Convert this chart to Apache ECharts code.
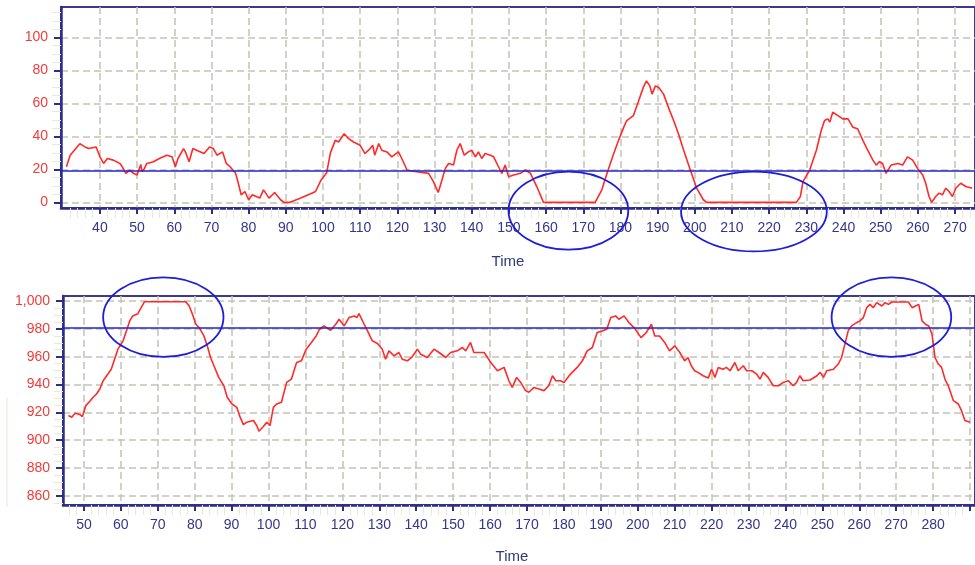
<!DOCTYPE html>
<html>
<head>
<meta charset="utf-8">
<script src="https://cdn.jsdelivr.net/npm/echarts@6/dist/echarts.min.js"></script>
<style>
  html, body { margin: 0; padding: 0; background: #ffffff; }
  #chart { width: 975px; height: 565px; }
</style>
</head>
<body>
<div id="chart"></div>
<script>
// Upper trend: time stamps and level readings
const upperTime = [
  31, 32, 34.6, 36, 37, 39, 40, 41, 42, 43.6, 45.4, 46, 47, 48, 49, 50, 51, 51.3, 52, 52.6,
  54.4, 56, 58, 59.4, 60.3, 61, 62.5, 63, 64, 65, 66, 68, 69.5, 70.5, 71.5, 72, 73, 74, 75, 76.5,
  77, 78, 79, 80, 81, 82, 83, 84, 85.5, 87, 88.6, 89.5, 91, 94, 97, 98, 99.5, 101, 102, 103.3,
  104.2, 105.7, 106.9, 108.2, 110, 111.3, 112.7, 113.4, 113.9, 115, 115.8, 117.2, 118.5, 120.3, 121.2, 122.6, 125.2, 128.4, 129.7, 131,
  132, 132.9, 133.8, 135.1, 136, 136.9, 138, 139.1, 140, 141, 141.8, 142.7, 143.6, 145, 145.9, 147.2, 148.1, 149, 149.9, 151.3,
  153.1, 154.4, 155.8, 157.5, 159.3, 173.2, 175, 176.4, 178.2, 179.5, 180.9, 181.7, 183.5, 184.9, 186.2, 187, 187.9, 188.5, 189.4, 190.3,
  191.6, 192.9, 194.3, 195.6, 197, 198.8, 200.5, 202.3, 203.2, 227.3, 228.4, 229.1, 230.9, 232.7, 234, 234.9, 235.8, 236.3, 237.1, 238.5,
  239.8, 241.2, 242.5, 243.8, 245.2, 246.5, 247.9, 248.8, 249.6, 250.5, 251.4, 252.8, 254.6, 255.9, 257.2, 258.6, 259.9, 261.3, 262.1, 263,
  263.7, 264.8, 265.7, 266.6, 267.5, 268.4, 269.3, 270.2, 271.5, 272.9, 274.6
];
const upperLevel = [
  21.6, 28.6, 35.6, 33.6, 32.6, 33.6, 27.6, 23.6, 26.6, 25.6, 23.6, 21.6, 17.6, 19.6, 17.6, 16.6, 23, 18.6, 20.6, 23.6,
  24.6, 26.6, 28.6, 27.6, 21.6, 26.6, 32.6, 30.6, 24.6, 32.6, 31.6, 29.6, 33.6, 32.6, 28.6, 27.6, 30.6, 23.6, 21.6, 17.6,
  13.6, 4.6, 6.6, 1.6, 4.6, 3.6, 2.6, 7.6, 2.6, 6, 1.6, 0, 0, 2.6, 5.6, 6.6, 13.6, 18, 30, 37.6,
  36.6, 41.6, 38.6, 36.6, 34.6, 29.6, 32.6, 34.6, 28.6, 35.6, 31.6, 30.6, 27.6, 30.6, 26.6, 19.6, 18.6, 17.6, 12.6, 6,
  13.6, 20.6, 23.6, 22.6, 31.6, 35.6, 28.6, 30.6, 31.6, 27.6, 30.6, 26.6, 29.6, 28.6, 27.6, 21.6, 17.6, 22.6, 15.6, 16.6,
  17.6, 19.6, 17.6, 9.6, 0, 0, 7.6, 17.6, 29.6, 37.6, 45.6, 49.6, 52.6, 61.6, 70, 73.6, 70.6, 65.6, 70.6, 69.6,
  65.6, 57.6, 49.6, 41.6, 31.6, 19.6, 8.6, 1.6, 0, 0, 3.6, 12.6, 19.6, 31.6, 43.6, 49.6, 50.6, 48.6, 54.6, 52.6,
  50.6, 50.6, 45.6, 44.6, 37.6, 31.6, 25.6, 22.6, 24.6, 23.6, 17.6, 22.6, 23.6, 22.6, 27.6, 25.6, 20.6, 16.6, 11.6, 3.6,
  0, 3.6, 5.6, 4.6, 8.6, 6.6, 3.6, 8.6, 11.6, 9.6, 8.6
];

// Lower trend: time stamps and pressure readings
const lowerTime = [
  45.8, 46.7, 47.6, 48.9, 49.6, 50.5, 51.6, 52.5, 53.4, 54.3, 55.2, 56.5, 57.4, 58.3, 59.2, 60.6, 61.5, 62.4, 63.2, 64.6,
  65.5, 66.4, 77.6, 78.5, 79.4, 80.3, 81.2, 82.5, 83.4, 84.3, 85.6, 86.5, 87.9, 88.8, 90.1, 91.4, 92.3, 93.2, 94.1, 95.9,
  96.8, 97.4, 98.6, 99.5, 100.4, 101.3, 102.2, 103.5, 104.9, 106.2, 107.6, 108.9, 110.2, 111.6, 112.9, 113.8, 115, 116.8, 118.2, 119.1,
  120.5, 121.8, 123.2, 123.9, 124.5, 125.9, 126.8, 128.1, 129.5, 130.8, 131.7, 132.6, 134, 135.3, 136.2, 137.6, 138.9, 140.3, 141.2, 143,
  144.8, 146.2, 148, 149.3, 151.1, 152.5, 153.4, 154.7, 155.6, 157.5, 158.4, 160.2, 162, 163.8, 165.1, 166, 167.2, 168.3, 169.6, 170.5,
  171.9, 173.2, 174.6, 175.9, 176.9, 177.8, 179.1, 180, 181.8, 183.6, 185, 186.3, 187.7, 189, 190.4, 191.6, 192.7, 194, 194.9, 196.3,
  197.6, 199, 200.9, 202.3, 203.7, 204.6, 205.9, 207.3, 208.6, 210, 211.4, 212.7, 213.6, 214.5, 215.4, 216.3, 217.7, 219.1, 220, 220.9,
  221.8, 223.1, 224, 225, 226.3, 227.2, 228.6, 229.5, 230.9, 232.2, 233.1, 234, 235.3, 236.7, 238.1, 239.4, 240.8, 242.1, 243, 243.9,
  244.8, 246.7, 248.5, 249.4, 250.3, 251.2, 253, 254.3, 255.2, 256.1, 257, 257.9, 259.3, 260.2, 261.1, 262, 262.9, 263.8, 264.7, 266.1,
  267, 267.9, 268.8, 273.3, 274.3, 275.2, 276.1, 277, 277.9, 278.8, 279.7, 280.5, 281.4, 282.3, 283.2, 284.1, 285.5, 286.8, 287.7, 288.6,
  290
];
const lowerLevel = [
  917.7, 916.5, 919.3, 918.4, 917, 924.8, 928, 930.8, 933.2, 936.8, 942.7, 947.5, 951, 958.2, 965.4, 971.4, 978.5, 985.7, 989.3, 990.9,
  995.2, 999.5, 999.5, 996.4, 990.5, 983.3, 980.9, 974.9, 967.8, 959.4, 951, 945.1, 939.1, 930.8, 926, 923.6, 916.5, 911.2, 912.9, 914.1,
  910.5, 906.4, 909.8, 912.9, 910.5, 923.6, 926, 927.2, 941.5, 943.9, 955.8, 957, 965.4, 970.2, 974.9, 979.7, 982.1, 979, 983.3, 986.9,
  982.1, 988.1, 989.3, 988.1, 990.9, 983.3, 978.5, 971.4, 969.5, 965.4, 958.2, 964.2, 960.6, 963, 958.2, 957, 959.9, 965.4, 961.8, 959.4,
  965.4, 963, 959.4, 963, 964.2, 966.6, 964.2, 970.2, 963, 963, 963, 955.8, 949.9, 952.3, 942.7, 937.9, 945.1, 941.5, 935.6, 934.4,
  937.9, 936.7, 935.6, 939.1, 946.3, 942.7, 942.7, 941.5, 947.5, 952.3, 957, 964.2, 966.6, 977.3, 978.5, 979.7, 988.1, 989.3, 986.9, 989.3,
  984.5, 980.9, 973.7, 977.3, 983.3, 974.9, 974.9, 970.2, 964.2, 967.8, 963, 957, 959.4, 953.5, 949.9, 948.7, 946.3, 944.6, 951, 945.1,
  952.3, 951, 952.3, 949.9, 955.8, 949.9, 953.5, 949.9, 949.9, 947.5, 943.9, 948.7, 945.1, 939.1, 939.1, 941.5, 942.7, 939.1, 941.5, 946.3,
  942.7, 943.2, 946.3, 948.7, 945.1, 949.9, 951, 954.7, 959.4, 969, 978.5, 982.1, 984.5, 985.7, 988.1, 995.2, 997.6, 995.2, 998.8, 996.4,
  998.8, 997.6, 999.3, 999.3, 995.2, 996.4, 997.6, 985.7, 983.3, 982.1, 976.1, 959.4, 954.7, 952.3, 943.9, 939.1, 928.4, 926, 921.2, 914.1,
  912.9
];

// Axis ticks and limit lines
const upperTimeTicks = [40, 50, 60, 70, 80, 90, 100, 110, 120, 130, 140, 150, 160, 170, 180, 190, 200, 210, 220, 230, 240, 250, 260, 270];
const lowerTimeTicks = [50, 60, 70, 80, 90, 100, 110, 120, 130, 140, 150, 160, 170, 180, 190, 200, 210, 220, 230, 240, 250, 260, 270, 280, 290];
const lowerTimeLabels = [50, 60, 70, 80, 90, 100, 110, 120, 130, 140, 150, 160, 170, 180, 190, 200, 210, 220, 230, 240, 250, 260, 270, 280];
const upperLevelTicks = [0, 20, 40, 60, 80, 100];
const lowerLevelTicks = [860, 880, 900, 920, 940, 960, 980, 1000];
const upperLimit = 19;
const lowerLimit = 981;

// Circled regions: centre time, centre value, half width (time), half height (value)
const upperCircles = [[166, -5, 16.1, 23.6], [215.9, -5.5, 19.6, 24.2]];
const lowerCircles = [[71.5, 988.4, 16.3, 28.6], [268.7, 988.4, 16.2, 28.6]];

const NAVY = '#2e2e88';
const GRID_GREY = '#c4c4b8';
const FONT = 'Liberation Sans, Arial, sans-serif';

function zip(xs, ys) { return xs.map((x, i) => [x, ys[i]]); }

function timeAxis(gridIndex, min, max, ticks, labels) {
  return {
    type: 'value', gridIndex, min, max, minInterval: 10, maxInterval: 10,
    axisLine: { show: true, onZero: false, lineStyle: { color: NAVY, width: 2.5 } },
    axisTick: { show: true, customValues: ticks, length: 6, lineStyle: { color: NAVY, width: 2 } },
    axisLabel: { customValues: labels, margin: 13, color: '#35358c', fontSize: 14, fontFamily: FONT },
    minorTick: { show: true, splitNumber: 5, length: 10, lineStyle: { color: '#ece8d8', width: 1 } },
    splitLine: { show: true, lineStyle: { color: GRID_GREY, width: 1.5, type: [7, 4] } }
  };
}

function levelAxis(gridIndex, min, max, step, ticks, fmt) {
  return {
    type: 'value', gridIndex, min, max, minInterval: step, maxInterval: step,
    axisLine: { show: true, onZero: false, lineStyle: { color: NAVY, width: 2.5 } },
    axisTick: { show: true, customValues: ticks, length: 7, lineStyle: { color: NAVY, width: 2 } },
    axisLabel: { customValues: ticks, margin: 13, color: '#f03c3c', fontSize: 14, fontFamily: FONT, formatter: fmt },
    minorTick: { show: true, splitNumber: 4, length: 9, lineStyle: { color: '#ece8d8', width: 1 } },
    splitLine: { show: true, lineStyle: { color: GRID_GREY, width: 1.5, type: [7, 4] } }
  };
}

function trend(axisIndex, data, limit) {
  return {
    type: 'line', xAxisIndex: axisIndex, yAxisIndex: axisIndex, data,
    showSymbol: false, symbol: 'none', z: 3,
    lineStyle: { color: '#ff2a2a', width: 1.6 },
    markLine: {
      silent: true, symbol: ['none', 'none'], label: { show: false },
      lineStyle: { color: '#2525c8', width: 1.6, type: 'solid' },
      data: [{ yAxis: limit }]
    }
  };
}

function circles(axisIndex, data) {
  return {
    type: 'custom', xAxisIndex: axisIndex, yAxisIndex: axisIndex, data, z: 5, clip: false, silent: true,
    renderItem(params, api) {
      const c = api.coord([api.value(0), api.value(1)]);
      const s = api.size([api.value(2), api.value(3)]);
      return {
        type: 'ellipse',
        shape: { cx: c[0], cy: c[1], rx: s[0], ry: s[1] },
        style: { fill: 'none', stroke: '#1e1ed8', lineWidth: 1.8 }
      };
    }
  };
}

const chart = echarts.init(document.getElementById('chart'), null, { renderer: 'canvas' });
chart.setOption({
  animation: false,
  backgroundColor: '#ffffff',
  grid: [
    { left: 61, top: 7, right: -3, height: 201, show: true, borderColor: '#3a3a8e', borderWidth: 2, backgroundColor: 'transparent' },
    { left: 63, top: 296, right: -3, height: 209, show: true, borderColor: '#3a3a8e', borderWidth: 2, backgroundColor: 'transparent' }
  ],
  xAxis: [
    timeAxis(0, 29.54, 275.36, upperTimeTicks, upperTimeTicks),
    timeAxis(1, 44.33, 291.34, lowerTimeTicks, lowerTimeLabels)
  ],
  yAxis: [
    levelAxis(0, -3.4, 118.4, 20, upperLevelTicks, v => String(v)),
    levelAxis(1, 853.4, 1003.6, 20, lowerLevelTicks, v => v.toLocaleString('en-US'))
  ],
  series: [
    trend(0, zip(upperTime, upperLevel), upperLimit),
    trend(1, zip(lowerTime, lowerLevel), lowerLimit),
    circles(0, upperCircles),
    circles(1, lowerCircles)
  ],
  graphic: [
    { type: 'text', x: 508, y: 262, style: { text: 'Time', fill: '#2c3a7e', font: '15px ' + FONT, textAlign: 'center', textVerticalAlign: 'middle' } },
    { type: 'text', x: 512, y: 557, style: { text: 'Time', fill: '#2c3a7e', font: '15px ' + FONT, textAlign: 'center', textVerticalAlign: 'middle' } },
    { type: 'line', shape: { x1: 7, y1: 398, x2: 7, y2: 507 }, style: { stroke: '#d8efd4', lineWidth: 1 } }
  ]
});
</script>
</body>
</html>
